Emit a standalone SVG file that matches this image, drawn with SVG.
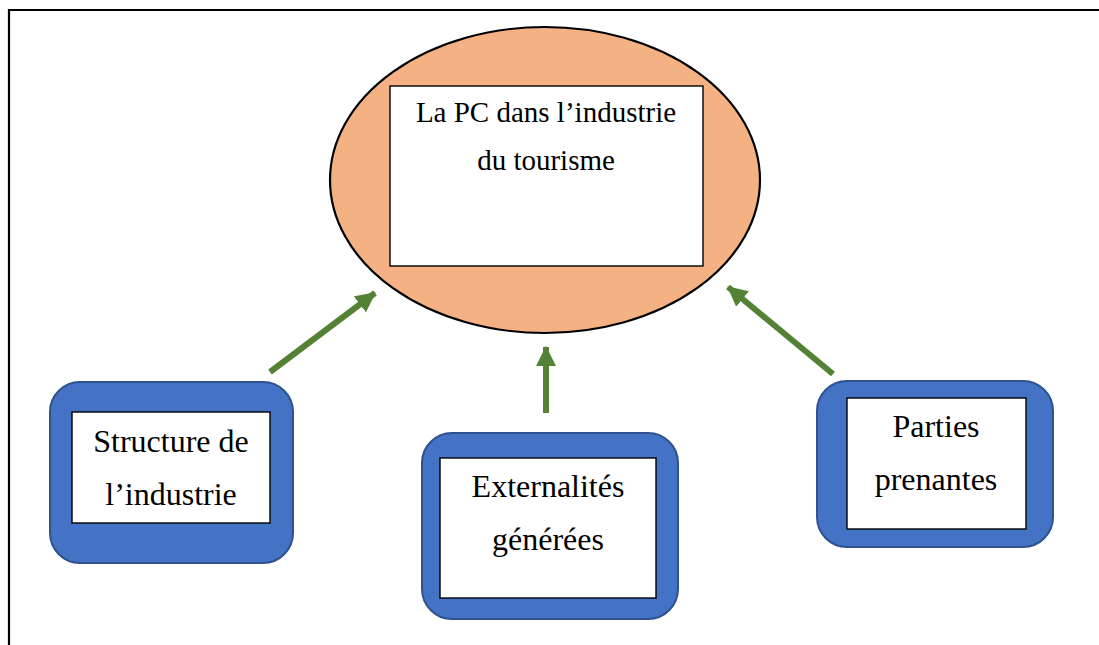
<svg xmlns="http://www.w3.org/2000/svg" width="1099" height="645" viewBox="0 0 1099 645">
  <defs>
    <style>
      .frame { fill: none; stroke: #000; stroke-width: 2.2; }
      .hub { fill: #F4B183; stroke: #000; stroke-width: 2.2; }
      .card { fill: #4472C4; stroke: #2F528F; stroke-width: 2; }
      .panel { fill: #fff; stroke: #000; stroke-width: 1.4; }
      .label { font-family: "Liberation Serif", "Times New Roman", serif; fill: #000; text-anchor: middle; }
      .hub-label { font-size: 29px; }
      .card-label { font-size: 32px; }
      .link { stroke: #548235; stroke-width: 6; fill: none; marker-end: url(#head); }
    </style>
    <marker id="head" markerUnits="userSpaceOnUse" markerWidth="20" markerHeight="20" viewBox="0 0 18 18" refX="17" refY="9" orient="auto">
      <path d="M0,0 L18,9 L0,18 Z" fill="#548235"/>
    </marker>
  </defs>

  <!-- outer frame: top and left edges only -->
  <path class="frame" d="M9,646 L9,10 L1100,10"/>

  <!-- central topic -->
  <g id="node-hub">
    <ellipse class="hub" cx="545" cy="180" rx="215" ry="153"/>
    <rect class="panel" x="390" y="86" width="313" height="180"/>
    <text class="label hub-label" x="546" y="122">La PC dans l’industrie</text>
    <text class="label hub-label" x="546" y="170">du tourisme</text>
  </g>

  <!-- contributing factors -->
  <g id="node-structure">
    <rect class="card" x="50" y="382" width="243" height="181" rx="30" ry="30"/>
    <rect class="panel" x="72" y="412" width="198" height="111"/>
    <text class="label card-label" x="171" y="452">Structure de</text>
    <text class="label card-label" x="171" y="505">l’industrie</text>
  </g>

  <g id="node-externalites">
    <rect class="card" x="422" y="433" width="256" height="186" rx="30" ry="30"/>
    <rect class="panel" x="440" y="458" width="216" height="140"/>
    <text class="label card-label" x="548" y="497">Externalités</text>
    <text class="label card-label" x="548" y="550">générées</text>
  </g>

  <g id="node-parties">
    <rect class="card" x="817" y="381" width="236" height="166" rx="30" ry="30"/>
    <rect class="panel" x="847" y="398" width="179" height="131"/>
    <text class="label card-label" x="936" y="437">Parties</text>
    <text class="label card-label" x="936" y="490">prenantes</text>
  </g>

  <!-- connectors toward the central topic -->
  <g id="connectors">
    <line class="link" x1="270" y1="372" x2="375" y2="293"/>
    <line class="link" x1="546" y1="413" x2="546" y2="347"/>
    <line class="link" x1="833" y1="374" x2="728" y2="287"/>
  </g>
</svg>
